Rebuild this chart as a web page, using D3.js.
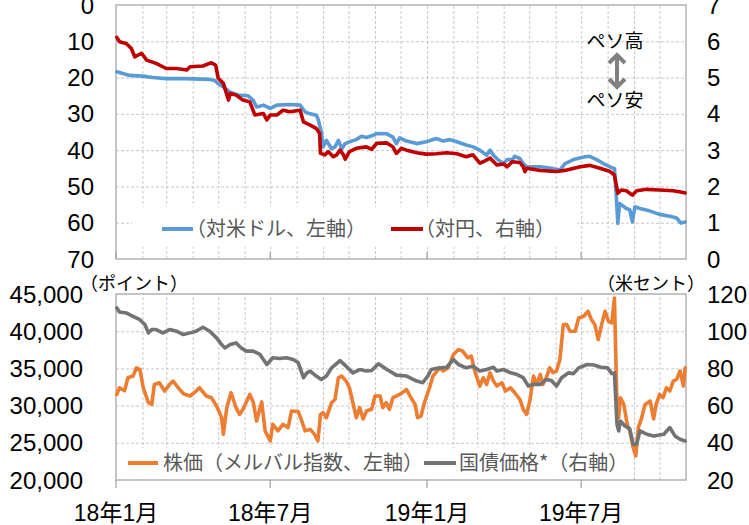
<!DOCTYPE html>
<html><head><meta charset="utf-8">
<script src="https://cdn.jsdelivr.net/npm/d3@7"></script>
<style>
html,body{margin:0;padding:0;background:#fff;}
svg{display:block;}
</style></head><body>
<svg id="c" width="749" height="525"></svg>
<script>
// ---------------- DATA ----------------
const usdDates = ["2018-01-02","2018-01-09","2018-01-17","2018-02-01","2018-02-13","2018-03-01","2018-03-24","2018-04-21","2018-04-27","2018-05-01",
"2018-05-07","2018-05-15","2018-05-24","2018-06-05","2018-06-11","2018-06-15","2018-06-23","2018-07-01","2018-07-09","2018-07-24",
"2018-08-05","2018-08-11","2018-08-17","2018-08-24","2018-08-26","2018-08-30","2018-09-01","2018-09-05","2018-09-11","2018-09-15",
"2018-09-19","2018-09-23","2018-09-27","2018-10-02","2018-10-10","2018-10-16","2018-10-22","2018-10-30","2018-11-03","2018-11-15",
"2018-11-22","2018-11-26","2018-11-30","2018-12-08","2018-12-20","2018-12-31","2019-01-12","2019-01-20","2019-01-28","2019-02-05",
"2019-02-16","2019-02-24","2019-03-04","2019-03-12","2019-03-16","2019-03-20","2019-03-26","2019-04-01","2019-04-05","2019-04-11",
"2019-04-14","2019-04-20","2019-04-24","2019-04-28","2019-05-14","2019-05-29","2019-06-06","2019-06-12","2019-06-22","2019-07-04",
"2019-07-11","2019-07-19","2019-07-27","2019-08-04","2019-08-09","2019-08-11","2019-08-13","2019-08-15","2019-08-23","2019-08-27",
"2019-08-30","2019-09-02","2019-09-08","2019-09-20","2019-10-01","2019-10-13","2019-10-21","2019-10-26","2019-10-31"];
const usdArs = [18.4,18.9,19.4,19.6,20.0,20.3,20.3,20.5,20.8,21.7,
22.6,24.0,24.8,25.0,26.3,28.1,27.6,28.5,27.6,27.4,
27.6,29.5,30.0,30.4,31.3,35.0,39.1,37.3,39.6,39.1,
37.3,39.6,38.2,37.7,37.1,36.2,36.5,35.9,35.4,35.5,
36.4,38.2,36.6,37.5,38.2,37.7,36.8,37.5,37.1,37.7,
38.6,39.1,40.0,41.4,40.0,41.4,42.8,43.7,42.6,42.6,
41.7,42.3,43.7,44.6,44.6,45.1,45.5,43.7,42.6,41.9,
41.7,42.6,43.7,44.6,45.1,52.0,60.2,54.7,56.1,56.4,
59.8,55.6,56.1,56.8,57.7,58.2,58.7,60.1,59.8];

const jpyDates = ["2018-01-02","2018-01-05","2018-01-13","2018-01-19","2018-01-23","2018-01-31","2018-02-06","2018-02-17","2018-03-01","2018-03-13",
"2018-03-25","2018-03-29","2018-04-13","2018-04-23","2018-04-28","2018-05-01","2018-05-07","2018-05-13","2018-05-15","2018-05-22",
"2018-05-30","2018-06-07","2018-06-13","2018-06-23","2018-06-27","2018-07-01","2018-07-09","2018-07-16","2018-07-24","2018-08-05",
"2018-08-09","2018-08-17","2018-08-24","2018-08-28","2018-08-29","2018-09-03","2018-09-07","2018-09-13","2018-09-17","2018-09-21",
"2018-09-25","2018-09-27","2018-10-02","2018-10-10","2018-10-22","2018-10-28","2018-11-03","2018-11-15","2018-11-22","2018-11-26",
"2018-12-02","2018-12-08","2018-12-20","2018-12-31","2019-01-12","2019-01-24","2019-02-05","2019-02-16","2019-02-24","2019-03-04",
"2019-03-08","2019-03-16","2019-03-24","2019-04-01","2019-04-05","2019-04-11","2019-04-20","2019-04-24","2019-04-26","2019-04-28",
"2019-05-14","2019-06-02","2019-06-14","2019-06-30","2019-07-11","2019-07-23","2019-08-04","2019-08-09","2019-08-13","2019-08-17",
"2019-08-23","2019-08-30","2019-09-04","2019-09-16","2019-10-01","2019-10-17","2019-10-29","2019-10-31"];
const jpyPerArs = [6.11,5.99,5.94,5.80,5.57,5.67,5.48,5.39,5.25,5.25,
5.21,5.30,5.32,5.41,5.34,4.98,4.84,4.38,4.56,4.52,
4.38,4.33,3.97,4.01,3.83,3.97,3.97,4.10,4.06,4.10,
3.78,3.69,3.60,3.46,2.91,2.87,2.96,2.82,2.87,3.00,
2.87,2.75,2.96,3.05,3.09,3.02,3.19,3.20,3.09,2.91,
3.05,3.00,2.93,2.89,2.90,2.93,2.90,2.82,2.87,2.64,
2.68,2.78,2.59,2.62,2.54,2.68,2.66,2.54,2.41,2.50,
2.44,2.41,2.45,2.54,2.58,2.50,2.41,2.31,1.81,1.90,
1.88,1.76,1.88,1.92,1.90,1.88,1.83,1.82];

const stockDates = ["2018-01-02","2018-01-05","2018-01-11","2018-01-15","2018-01-21","2018-01-25","2018-01-29","2018-02-02","2018-02-08","2018-02-12",
"2018-02-15","2018-02-21","2018-02-27","2018-03-05","2018-03-09","2018-03-15","2018-03-21","2018-03-29","2018-04-05","2018-04-09",
"2018-04-17","2018-04-23","2018-04-29","2018-05-05","2018-05-07","2018-05-11","2018-05-16","2018-05-22","2018-05-26","2018-05-30",
"2018-06-07","2018-06-11","2018-06-15","2018-06-21","2018-06-25","2018-07-01","2018-07-04","2018-07-10","2018-07-16","2018-07-22",
"2018-07-26","2018-08-03","2018-08-07","2018-08-11","2018-08-17","2018-08-22","2018-08-26","2018-08-29","2018-09-01","2018-09-05",
"2018-09-11","2018-09-15","2018-09-19","2018-09-23","2018-09-28","2018-10-02","2018-10-06","2018-10-10","2018-10-14","2018-10-18",
"2018-10-22","2018-10-28","2018-11-01","2018-11-07","2018-11-10","2018-11-14","2018-11-18","2018-11-22","2018-11-30","2018-12-08",
"2018-12-12","2018-12-18","2018-12-21","2018-12-25","2018-12-29","2019-01-04","2019-01-08","2019-01-16","2019-01-20","2019-01-26",
"2019-02-01","2019-02-07","2019-02-12","2019-02-18","2019-02-22","2019-02-26","2019-03-04","2019-03-08","2019-03-12","2019-03-16",
"2019-03-20","2019-03-24","2019-03-30","2019-04-03","2019-04-09","2019-04-14","2019-04-20","2019-04-24","2019-04-28","2019-05-02",
"2019-05-06","2019-05-10","2019-05-14","2019-05-17","2019-05-21","2019-05-25","2019-05-29","2019-06-02","2019-06-06","2019-06-10",
"2019-06-14","2019-06-18","2019-06-24","2019-06-28","2019-07-04","2019-07-09","2019-07-13","2019-07-17","2019-07-21","2019-07-25",
"2019-07-29","2019-08-02","2019-08-06","2019-08-09","2019-08-12","2019-08-14","2019-08-16","2019-08-20","2019-08-24","2019-08-27",
"2019-08-31","2019-09-03","2019-09-06","2019-09-10","2019-09-14","2019-09-20","2019-09-24","2019-09-27","2019-10-01","2019-10-05",
"2019-10-09","2019-10-13","2019-10-17","2019-10-21","2019-10-25","2019-10-29","2019-10-31"];
const merval = [31500,32400,32000,33740,33970,35080,34870,32400,30390,30160,
32840,33060,31960,32840,33300,32400,31600,31290,31960,32400,
31290,31060,29950,28380,26140,29700,31730,29700,28820,29480,
31500,30500,27940,30500,26600,25250,27480,26600,27480,27040,
29280,29200,27940,26600,26800,26140,25250,28820,29050,28380,
30390,30830,33740,33970,33300,32400,30390,28380,29720,28200,
29280,29500,31290,31290,29720,30390,29500,31060,31500,32170,
31290,30160,28380,28600,30390,32400,33970,35080,34650,35080,
36860,37530,37300,36420,36640,34650,32620,33740,32840,34400,
33300,32620,33060,31960,32400,31730,30830,29490,28820,30830,
33970,32840,34190,32840,33740,35080,34420,34650,36190,40890,
40890,40000,40000,41780,42010,42680,41550,40890,38880,40890,
42680,41330,41110,44460,30000,28380,31060,30160,27480,26600,
24360,23240,27040,28380,30160,30610,28200,30160,31500,31060,
32400,31960,33300,33520,34650,32620,35080];

const bondDates = ["2018-01-02","2018-01-05","2018-01-13","2018-01-21","2018-01-29","2018-02-04","2018-02-08","2018-02-12","2018-02-17","2018-02-25",
"2018-03-05","2018-03-13","2018-03-21","2018-03-29","2018-04-05","2018-04-13","2018-04-21","2018-04-29","2018-05-05","2018-05-09",
"2018-05-15","2018-05-22","2018-05-28","2018-06-03","2018-06-11","2018-06-19","2018-06-27","2018-07-04","2018-07-12","2018-07-20",
"2018-07-28","2018-08-03","2018-08-09","2018-08-13","2018-08-17","2018-08-24","2018-08-30","2018-09-05","2018-09-11","2018-09-21",
"2018-09-28","2018-10-06","2018-10-14","2018-10-22","2018-10-28","2018-11-05","2018-11-15","2018-11-26","2018-12-08","2018-12-20",
"2018-12-27","2019-01-02","2019-01-06","2019-01-16","2019-01-24","2019-02-01","2019-02-07","2019-02-16","2019-02-24","2019-03-04",
"2019-03-12","2019-03-20","2019-03-24","2019-04-01","2019-04-09","2019-04-16","2019-04-24","2019-04-30","2019-05-06","2019-05-14",
"2019-05-21","2019-05-27","2019-06-02","2019-06-08","2019-06-16","2019-06-22","2019-06-28","2019-07-08","2019-07-16","2019-07-24",
"2019-08-01","2019-08-06","2019-08-09","2019-08-12","2019-08-14","2019-08-16","2019-08-21","2019-08-27","2019-08-31","2019-09-04",
"2019-09-08","2019-09-16","2019-09-24","2019-10-06","2019-10-13","2019-10-19","2019-10-25","2019-10-31"];
const bondPrice = [112.5,110.3,109.8,108,106.2,103.5,99.1,100.9,100.9,99.1,
100.9,100,98.2,99.1,100,102.1,100,96.4,92.8,91,
92.8,93.7,91,89.3,89.3,87.5,82.1,85.7,85.3,85.7,
84.8,83,75,77.6,78.6,75.9,74,75.9,80.3,84.2,
81.2,77.6,79.4,78.6,78.9,82.5,79.4,76.4,75.9,73.2,
72.3,75.9,79.4,80.3,80.6,84.8,82.1,80.3,81.2,78.6,
79.4,80.6,78.6,79.4,77.6,76.8,75,70.5,71.4,71.4,
74,73.5,70.5,75,77.6,77.2,80.3,82.1,81.8,80.6,
80.3,77.2,77.6,50,46.4,51.7,49.2,47.5,39.2,39.2,
46.4,44.6,43.7,44.6,48.2,43.7,41.9,41];

const usdTicks = [0,10,20,30,40,50,60,70];
const jpyTicks = [0,1,2,3,4,5,6,7];
const stockTicks = [20000,25000,30000,35000,40000,45000];
const bondTicks = [20,40,60,80,100,120];
const xLabelDates = ["2018-01-01","2018-07-01","2019-01-01","2019-07-01"];
const xLabels = ["18年1月","18年7月","19年1月","19年7月"];

// ---------------- DRAW ----------------
const svg = d3.select("#c");
const parse = d3.timeParse("%Y-%m-%d");
const NUM = "'Liberation Sans', Arial, 'Noto Sans CJK JP', sans-serif";
const JP = "'Noto Sans CJK JP', 'Noto Sans', sans-serif";

const X0 = 116, X1 = 686;
const x = d3.scaleTime().domain([parse("2018-01-01"), parse("2019-11-01")]).range([X0, X1]);
const T0 = 5, T1 = 259, B0 = 294, B1 = 480;
const yUsd = d3.scaleLinear().domain([0,70]).range([T0,T1]);
const yJpy = d3.scaleLinear().domain([0,7]).range([T1,T0]);
const yStock = d3.scaleLinear().domain([20000,45000]).range([B1,B0]);
const yBond = d3.scaleLinear().domain([20,120]).range([B1,B0]);

const months = d3.timeMonth.range(parse("2018-02-01"), parse("2019-11-01"));

function grid(y0, y1, yScale, ticks) {
  const g = svg.append("g");
  g.append("g").attr("transform", `translate(0,${y1})`)
    .call(d3.axisBottom(x).tickValues(months).tickSize(-(y1-y0)).tickFormat(""))
    .call(s => s.select(".domain").remove())
    .selectAll("line").attr("stroke", "#c9c9c9").attr("stroke-dasharray", "3,2");
  g.append("g").attr("transform", `translate(${X0},0)`)
    .call(d3.axisLeft(yScale).tickValues(ticks.slice(1, -1)).tickSize(-(X1-X0)).tickFormat(""))
    .call(s => s.select(".domain").remove())
    .selectAll("line").attr("stroke", "#c9c9c9").attr("stroke-dasharray", "3,2");
}
grid(T0, T1, yUsd, usdTicks);
grid(B0, B1, yStock, stockTicks);

// legend backgrounds (cover gridlines)
svg.append("rect").attr("x",132).attr("y",207).attr("width",445).attr("height",40).attr("fill","#fff");
svg.append("rect").attr("x",120).attr("y",448).attr("width",508).attr("height",31).attr("fill","#fff");

// frames
[[T0,T1],[B0,B1]].forEach(([a,b]) => {
  svg.append("rect").attr("x",X0).attr("y",a).attr("width",X1-X0).attr("height",b-a)
    .attr("fill","none").attr("stroke","#a6a6a6").attr("stroke-width",1.3);
});

// major ticks
const majors = xLabelDates.map(parse);
svg.append("g").selectAll("line").data(majors).join("line")
  .attr("x1", d => x(d)).attr("x2", d => x(d)).attr("y1", T1).attr("y2", T1-7)
  .attr("stroke","#a6a6a6").attr("stroke-width",1.3);
svg.append("g").selectAll("line").data(majors).join("line")
  .attr("x1", d => x(d)).attr("x2", d => x(d)).attr("y1", B1).attr("y2", B1+8)
  .attr("stroke","#a6a6a6").attr("stroke-width",1.3);

// lines
function drawLine(dates, vals, yScale, color) {
  const data = d3.zip(dates.map(parse), vals);
  svg.append("path").datum(data)
    .attr("fill","none").attr("stroke",color).attr("stroke-width",3.6)
    .attr("stroke-linejoin","round").attr("stroke-linecap","round")
    .attr("d", d3.line().x(d => x(d[0])).y(d => yScale(d[1])));
}
const BLUE = "#5b9bd5", RED = "#c00000", ORANGE = "#ed7d31", GRAY = "#737373";
drawLine(usdDates, usdArs, yUsd, BLUE);
drawLine(jpyDates, jpyPerArs, yJpy, RED);
drawLine(stockDates, merval, yStock, ORANGE);
drawLine(bondDates, bondPrice, yBond, GRAY);

// axis labels
function labels(ticks, yScale, xp, anchor, fmt) {
  svg.append("g").selectAll("text").data(ticks).join("text")
    .attr("x", xp).attr("y", d => yScale(d)).attr("dy","0.36em")
    .attr("text-anchor", anchor).attr("font-family", NUM).attr("font-size", 24)
    .attr("fill","#000").text(fmt);
}
labels(usdTicks, yUsd, 94, "end", d => d);
labels(jpyTicks, yJpy, 707, "start", d => d);
labels(stockTicks, yStock, 83, "end", d3.format(","));
labels(bondTicks, yBond, 707, "start", d => d);

svg.append("g").selectAll("text").data(majors).join("text")
  .attr("x", d => x(d)).attr("y", 521).attr("text-anchor","middle")
  .attr("font-family", NUM).attr("font-size", 23).attr("fill","#000")
  .text((d,i) => xLabels[i]);

// unit labels
svg.append("text").attr("x",80).attr("y",290).attr("font-family",JP).attr("font-size",18).attr("fill","#000").text("（ポイント）");
svg.append("text").attr("x",597).attr("y",290).attr("font-family",JP).attr("font-size",18).attr("fill","#000").text("（米セント）");

// legends
function legend(x1, x2, y, color, label, tx) {
  svg.append("line").attr("x1",x1).attr("x2",x2).attr("y1",y).attr("y2",y)
    .attr("stroke",color).attr("stroke-width",4);
  svg.append("text").attr("x",tx).attr("y",y).attr("dy","0.36em")
    .attr("font-family",JP).attr("font-size",20).attr("fill","#595959").text(label);
}
legend(162, 193, 229, BLUE, "（対米ドル、左軸）", 186);
legend(391, 423, 229, RED, "（対円、右軸）", 415);
legend(128, 158, 463, ORANGE, "株価（メルバル指数、左軸）", 163);
legend(424, 456, 463, GRAY, "国債価格*（右軸）", 459);

// annotation
svg.append("text").attr("x",615).attr("y",48).attr("text-anchor","middle")
  .attr("font-family",JP).attr("font-size",19).attr("fill","#000").text("ペソ高");
svg.append("text").attr("x",615).attr("y",107).attr("text-anchor","middle")
  .attr("font-family",JP).attr("font-size",19).attr("fill","#000").text("ペソ安");
svg.append("path")
  .attr("d","M617,56 L617,86 M609,63 L617,55 L625,63 M609,79 L617,87 L625,79")
  .attr("fill","none").attr("stroke","#808080").attr("stroke-width",4)
  .attr("stroke-linejoin","miter");
</script>
</body></html>
